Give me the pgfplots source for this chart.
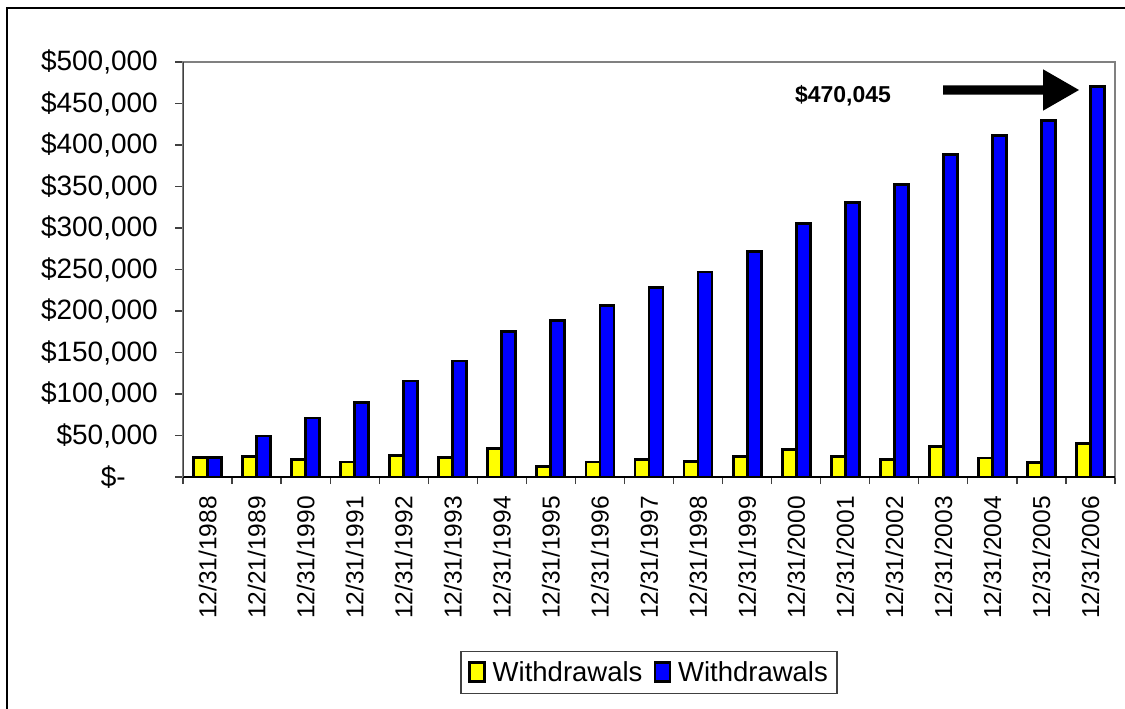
\documentclass[border=0pt]{standalone}
\usepackage{pgfplots}
\pgfplotsset{compat=1.18}
\usepackage{fontspec}
\setmainfont{Liberation Sans}
\definecolor{barY}{HTML}{FFFF00}
\definecolor{barB}{HTML}{0000FF}
\begin{document}
\begin{tikzpicture}
\path[use as bounding box] (0pt,0pt) rectangle (1125pt,-709pt);
\fill[white] (0pt,0pt) rectangle (1125pt,-709pt);
\draw[black, line width=1.6pt] (7pt,-709pt) -- (7pt,-8pt);
\draw[black, line width=2.8pt] (6pt,-8pt) -- (1125pt,-8pt);
\begin{axis}[
  at={(183pt,-477pt)}, anchor=south west,
  scale only axis, width=932pt, height=415pt,
  ybar=0pt, bar width=14pt,
  xmin=-0.5, xmax=18.5, ymin=0, ymax=500000,
  xtick={0,...,18},
  xticklabels={12/31/1988,12/21/1989,12/31/1990,12/31/1991,12/31/1992,12/31/1993,12/31/1994,12/31/1995,12/31/1996,12/31/1997,12/31/1998,12/31/1999,12/31/2000,12/31/2001,12/31/2002,12/31/2003,12/31/2004,12/31/2005,12/31/2006},
  minor xtick={-0.5,0.5,...,18.5},
  ytick={0,50000,100000,150000,200000,250000,300000,350000,400000,450000,500000},
  yticklabels={{\$-\hspace*{32pt}\mbox{}},{\$50,000},{\$100,000},{\$150,000},{\$200,000},{\$250,000},{\$300,000},{\$350,000},{\$400,000},{\$450,000},{\$500,000}},
  scaled y ticks=false,
  tick align=outside, tick pos=left,
  major tick length=8pt, minor tick length=7pt,
  major x tick style={draw=none},
  tick style={color=black!75, line width=1.3pt},
  axis line style={draw=gray, line width=1.8pt},
  yticklabel style={font=\fontsize{28}{31}\selectfont, inner sep=0pt, anchor=east, xshift=-17pt},
  xticklabel style={font=\fontsize{24.5}{28}\selectfont, yshift=-11pt, rotate=90, anchor=east, inner sep=0pt},
  legend style={at={(0.5,-0.471)}, anchor=center, legend columns=2, draw=black!75, line width=1.3pt, font=\fontsize{27.5}{30}\selectfont, inner xsep=7pt, inner ysep=8pt, /tikz/every even column/.append style={column sep=9pt}, /tikz/every odd column/.append style={column sep=5pt}},
  legend image code/.code={\draw[#1, line width=2.6pt] (0pt,-9pt) rectangle (15pt,10pt);},
]
\addplot[fill=barY, draw=black, line width=2.8pt] coordinates {
(0,23500) (1,25000) (2,21500) (3,18000) (4,26000) (5,23500) (6,34000) (7,13000) (8,18000) (9,21500)
(10,18500) (11,25000) (12,33000) (13,25000) (14,21000) (15,36500) (16,23000) (17,17500) (18,40000)};
\addlegendentry{Withdrawals}
\addplot[fill=barB, draw=black, line width=2.8pt] coordinates {
(0,23500) (1,49500) (2,71000) (3,89500) (4,115700) (5,139800) (6,175000) (7,188300) (8,206400) (9,228500)
(10,247000) (11,272000) (12,305600) (13,331000) (14,352600) (15,389000) (16,411600) (17,429800) (18,470045)};
\addlegendentry{Withdrawals}
\draw[black, line width=1.8pt] (rel axis cs:0,0) -- (rel axis cs:1,0);
\draw[black!75, line width=1.8pt] (rel axis cs:0,0) -- (rel axis cs:0,1);
\end{axis}
\node[font=\bfseries\fontsize{23}{26}\selectfont, inner sep=0pt] at (843pt,-96pt) {\$470,045};
\fill[black] (943pt,-85.3pt) -- (1043pt,-85.3pt) -- (1043pt,-69.3pt) -- (1079pt,-90pt) -- (1043pt,-110.7pt) -- (1043pt,-94.7pt) -- (943pt,-94.7pt) -- cycle;
\end{tikzpicture}
\end{document}
